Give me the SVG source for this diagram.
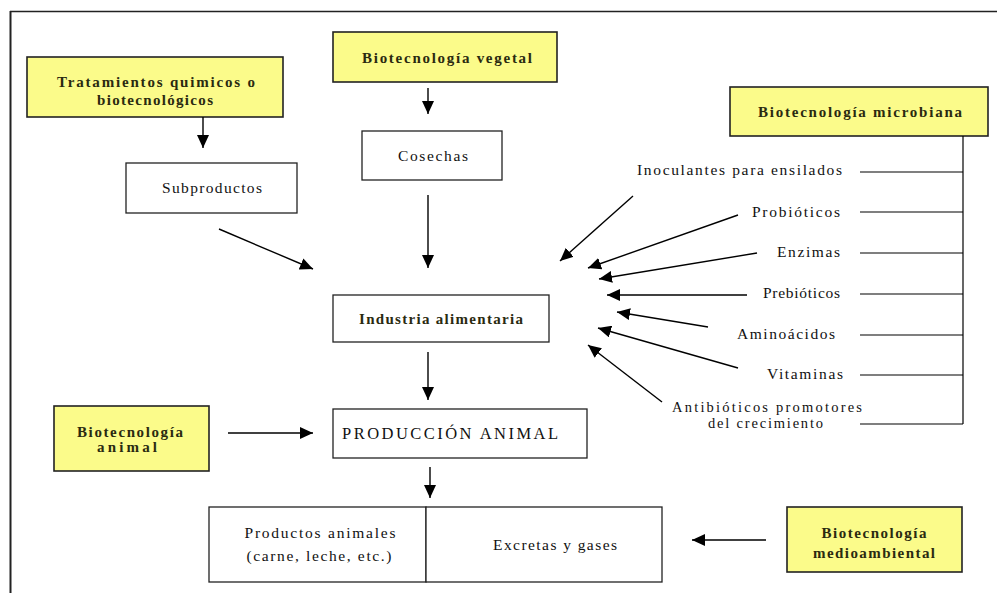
<svg xmlns="http://www.w3.org/2000/svg" width="997" height="593" viewBox="0 0 997 593">
<defs>
<marker id="ah" viewBox="0 0 13 12" refX="13" refY="6" markerWidth="13" markerHeight="12" markerUnits="userSpaceOnUse" orient="auto">
<path d="M0,0 L13,6 L0,12 Z" fill="#000"/>
</marker>
<style>
.t{font-family:"Liberation Serif","Times New Roman",serif;font-size:15.5px;fill:#111;text-anchor:middle}
.b{font-weight:bold;fill:#2a2a10;font-size:15px}
.s{font-size:14.5px}
.y{fill:#fbfb8a;stroke:#222;stroke-width:1.6}
.w{fill:#fff;stroke:#222;stroke-width:1.3}
.c line{stroke:#000;stroke-width:1.4}
.a{marker-end:url(#ah)}
</style>
</defs>
<rect width="997" height="593" fill="#fff"/>
<g id="frame" fill="none" stroke="#222">
<line x1="10" y1="11.5" x2="997" y2="11.5" stroke-width="1.3"/>
<line x1="10.5" y1="11" x2="10.5" y2="593" stroke-width="2"/>
</g>

<g id="n-tratamientos"><rect class="y" x="27" y="57" width="256" height="60"/>
<text class="t b" x="156" y="87" textLength="198" lengthAdjust="spacing">Tratamientos quimicos o</text>
<text class="t b" x="155" y="105" textLength="116" lengthAdjust="spacing">biotecnológicos</text></g>

<g id="n-subproductos"><rect class="w" x="126" y="163" width="171" height="50"/>
<text class="t" x="212" y="193" textLength="100" lengthAdjust="spacing">Subproductos</text></g>

<g id="n-vegetal"><rect class="y" x="333" y="32" width="224" height="50"/>
<text class="t b" x="447" y="63" textLength="170" lengthAdjust="spacing">Biotecnología vegetal</text></g>

<g id="n-cosechas"><rect class="w" x="362" y="131" width="140" height="49"/>
<text class="t" x="433" y="161" textLength="70" lengthAdjust="spacing">Cosechas</text></g>

<g id="n-microbiana"><rect class="y" x="730" y="87" width="258" height="49"/>
<text class="t b" x="860" y="117" textLength="204" lengthAdjust="spacing">Biotecnología microbiana</text></g>

<g id="n-industria"><rect class="w" x="333" y="295" width="216" height="47"/>
<text class="t b" x="441" y="324" textLength="164" lengthAdjust="spacing" fill="#1e2a30">Industria alimentaria</text></g>

<g id="n-produccion"><rect class="w" x="333" y="409" width="254" height="49"/>
<text class="t" x="450" y="439" textLength="216" lengthAdjust="spacing" style="font-size:16.5px">PRODUCCIÓN ANIMAL</text></g>

<g id="n-animal"><rect class="y" x="54" y="406" width="155" height="65"/>
<text class="t b" x="130" y="437" textLength="106" lengthAdjust="spacing">Biotecnología</text>
<text class="t b" x="127" y="452" textLength="60" lengthAdjust="spacing">animal</text></g>

<g id="n-productos"><rect class="w" x="209" y="507" width="217" height="75"/>
<text class="t" x="320" y="538" textLength="151" lengthAdjust="spacing">Productos animales</text>
<text class="t" x="319" y="561" textLength="145" lengthAdjust="spacing">(carne, leche, etc.)</text></g>

<g id="n-excretas"><rect class="w" x="426" y="507" width="236" height="75"/>
<text class="t" x="555" y="550" textLength="124" lengthAdjust="spacing">Excretas y gases</text></g>

<g id="n-medioambiental"><rect class="y" x="787" y="507" width="175" height="65"/>
<text class="t b" x="874" y="538" textLength="105" lengthAdjust="spacing">Biotecnología</text>
<text class="t b" x="874" y="558" textLength="122" lengthAdjust="spacing">medioambiental</text></g>

<g id="labels">
<text class="t" x="739.5" y="175" textLength="205" lengthAdjust="spacing">Inoculantes para ensilados</text>
<text class="t" x="796" y="217" textLength="88" lengthAdjust="spacing">Probióticos</text>
<text class="t" x="808.5" y="257" textLength="63" lengthAdjust="spacing">Enzimas</text>
<text class="t" x="801.5" y="298" textLength="77" lengthAdjust="spacing">Prebióticos</text>
<text class="t" x="786" y="339" textLength="98" lengthAdjust="spacing">Aminoácidos</text>
<text class="t" x="805" y="379" textLength="76" lengthAdjust="spacing">Vitaminas</text>
<text class="t s" x="767" y="412" textLength="190" lengthAdjust="spacing">Antibióticos promotores</text>
<text class="t s" x="765.5" y="428" textLength="115" lengthAdjust="spacing">del crecimiento</text>
</g>

<g id="connectors" class="c">
<line class="a" x1="203" y1="117" x2="203" y2="148"/>
<line class="a" x1="428" y1="88" x2="428" y2="114"/>
<line class="a" x1="428" y1="195" x2="428" y2="268"/>
<line class="a" x1="219" y1="229" x2="313" y2="269"/>
<line class="a" x1="428" y1="352" x2="428" y2="400"/>
<line class="a" x1="228" y1="433" x2="313" y2="433"/>
<line class="a" x1="430" y1="467" x2="430" y2="498"/>
<line class="a" x1="766" y1="540" x2="692" y2="540"/>
<line x1="963" y1="136" x2="963" y2="424" style="stroke-width:1.2"/>
<line x1="860" y1="172" x2="963" y2="172" style="stroke-width:1.2"/>
<line x1="860" y1="212" x2="963" y2="212" style="stroke-width:1.2"/>
<line x1="860" y1="253" x2="963" y2="253" style="stroke-width:1.2"/>
<line x1="860" y1="294" x2="963" y2="294" style="stroke-width:1.2"/>
<line x1="860" y1="335" x2="963" y2="335" style="stroke-width:1.2"/>
<line x1="860" y1="375" x2="963" y2="375" style="stroke-width:1.2"/>
<line x1="860" y1="424" x2="963" y2="424" style="stroke-width:1.2"/>
<line class="a" x1="633" y1="196" x2="560" y2="261"/>
<line class="a" x1="738" y1="215" x2="588" y2="268"/>
<line class="a" x1="757" y1="253" x2="599" y2="279"/>
<line class="a" x1="747" y1="295" x2="607" y2="295"/>
<line class="a" x1="708" y1="327" x2="617" y2="312"/>
<line class="a" x1="738" y1="368" x2="598" y2="328"/>
<line class="a" x1="662" y1="402" x2="588" y2="345"/>
</g>
</svg>
